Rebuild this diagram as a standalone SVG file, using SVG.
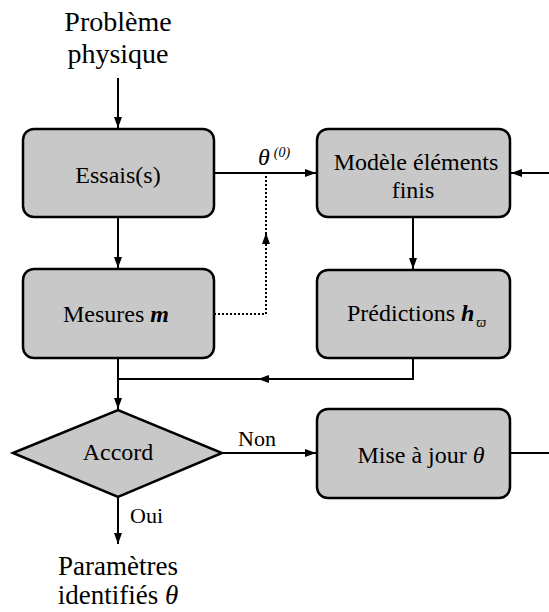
<svg xmlns="http://www.w3.org/2000/svg" width="549" height="612" viewBox="0 0 549 612">
<style>
.box{fill:#c8c8c8;stroke:#000;stroke-width:2.5}
.ln{fill:none;stroke:#000;stroke-width:2}
.dot{fill:none;stroke:#000;stroke-width:2;stroke-dasharray:2,2}
</style>
<defs>
<marker id="ah" markerUnits="userSpaceOnUse" markerWidth="11" markerHeight="8" refX="11" refY="4" orient="auto">
<path d="M0,0 L11,4 L0,8 z" fill="#000"/>
</marker>
</defs>
<rect width="549" height="612" fill="#fff"/>

<g id="connectors">
<path class="ln" d="M118,78 V128" marker-end="url(#ah)"/>
<path class="ln" d="M214,173 H316" marker-end="url(#ah)"/>
<path class="ln" d="M118,218 V268" marker-end="url(#ah)"/>
<path class="ln" d="M413,218 V269" marker-end="url(#ah)"/>
<path class="dot" d="M214,314 H266 V174"/>
<path class="ln" d="M266,245 V233" marker-end="url(#ah)"/>
<path class="ln" d="M413,358 V379 H118"/>
<path class="ln" d="M272,379 H258" marker-end="url(#ah)"/>
<path class="ln" d="M118,358 V409" marker-end="url(#ah)"/>
<path class="ln" d="M222,453 H316" marker-end="url(#ah)"/>
<path class="ln" d="M510,453 H549"/>
<path class="ln" d="M549,173 H511" marker-end="url(#ah)"/>
<path class="ln" d="M118,498 V544" marker-end="url(#ah)"/>
<text font-family="Liberation Serif, serif" font-size="24" x="258" y="165" font-style="italic">θ<tspan font-size="14" dy="-8" dx="4">(0)</tspan></text>
<text font-family="Liberation Serif, serif" font-size="22" x="238" y="446">Non</text>
<text font-family="Liberation Serif, serif" font-size="22" x="130" y="523">Oui</text>
</g>

<g id="start">
<text font-family="Liberation Serif, serif" font-size="28" x="118" y="31" text-anchor="middle">Problème</text>
<text font-family="Liberation Serif, serif" font-size="28" x="118" y="63" text-anchor="middle">physique</text>
</g>

<g id="essais">
<rect class="box" x="23" y="129" width="191" height="88" rx="11"/>
<text font-family="Liberation Serif, serif" font-size="24" x="118" y="183" text-anchor="middle">Essais(s)</text>
</g>

<g id="modele">
<rect class="box" x="317" y="129" width="193" height="88" rx="11"/>
<text font-family="Liberation Serif, serif" font-size="24" x="416" y="170" text-anchor="middle">Modèle éléments</text>
<text font-family="Liberation Serif, serif" font-size="24" x="413" y="198" text-anchor="middle">finis</text>
</g>

<g id="mesures">
<rect class="box" x="23" y="269" width="191" height="89" rx="11"/>
<text font-family="Liberation Serif, serif" font-size="24" x="116" y="322" text-anchor="middle">Mesures <tspan font-weight="bold" font-style="italic">m</tspan></text>
</g>

<g id="predictions">
<rect class="box" x="317" y="270" width="193" height="88" rx="11"/>
<text font-family="Liberation Serif, serif" font-size="24" x="347" y="321">Prédictions <tspan font-weight="bold" font-style="italic">h</tspan><tspan font-size="14" font-style="italic" dy="6" dx="2">ϖ</tspan></text>
</g>

<g id="accord">
<polygon class="box" points="13,453 118,410 222,453 118,497"/>
<text font-family="Liberation Serif, serif" font-size="24" x="118" y="460" text-anchor="middle">Accord</text>
</g>

<g id="miseajour">
<rect class="box" x="317" y="409" width="193" height="89" rx="11"/>
<text font-family="Liberation Serif, serif" font-size="24" x="421" y="463" text-anchor="middle">Mise à jour <tspan font-style="italic">θ</tspan></text>
</g>

<g id="end">
<text font-family="Liberation Serif, serif" font-size="27" x="118" y="575" text-anchor="middle">Paramètres</text>
<text font-family="Liberation Serif, serif" font-size="27" x="118" y="604" text-anchor="middle">identifiés <tspan font-style="italic">θ</tspan></text>
</g>
</svg>
